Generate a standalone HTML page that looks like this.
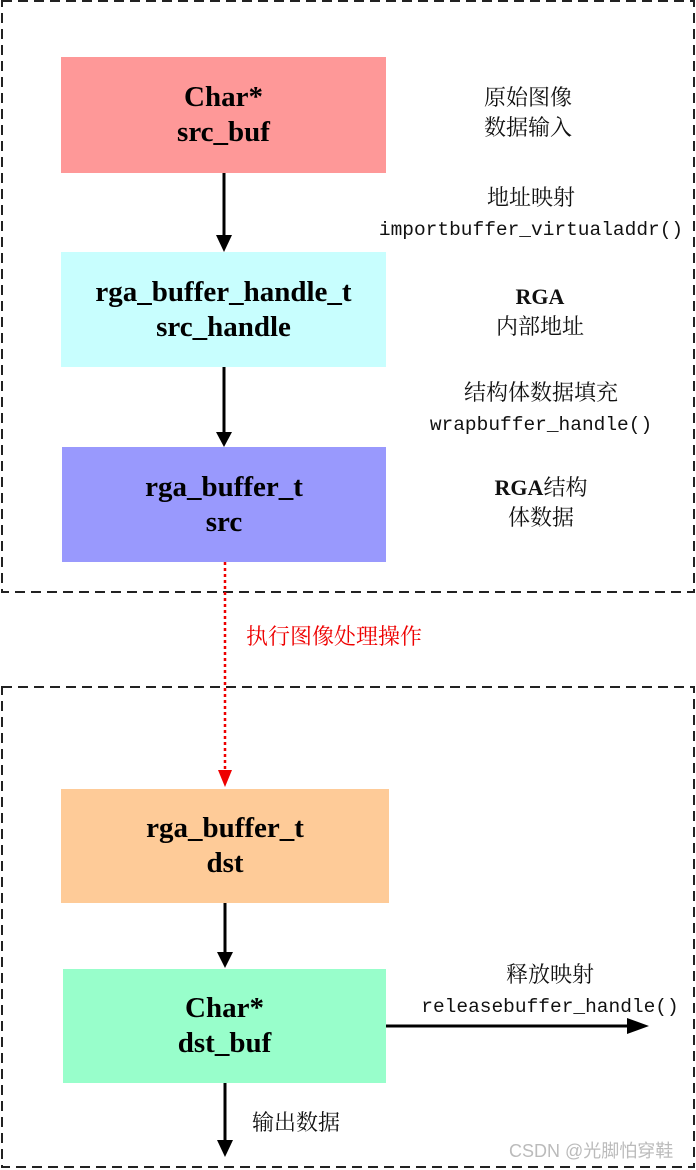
<!DOCTYPE html>
<html><head><meta charset="utf-8"><style>
body{margin:0;width:696px;height:1170px;background:#fff;position:relative;overflow:hidden;font-family:"Liberation Serif","Noto Serif CJK SC",serif}
.b{position:absolute;display:flex;flex-direction:column;justify-content:center;align-items:center;text-align:center;font-weight:bold;font-size:29px;line-height:35px;color:#000}
.t{position:absolute;text-align:center;font-size:22px;line-height:30px;color:#111}
.m{font-family:"Liberation Mono",monospace;font-size:19.5px}
</style></head><body>
<svg width="696" height="1170" style="position:absolute;left:0;top:0">
<rect x="2" y="1" width="692" height="591" fill="none" stroke="#222" stroke-width="2" stroke-dasharray="10,6"/>
<rect x="2" y="687" width="692" height="480" fill="none" stroke="#222" stroke-width="2" stroke-dasharray="10,6"/>
<line x1="224" y1="173" x2="224" y2="238" stroke="#000" stroke-width="3"/>
<path d="M216,235l8,17l8,-17z" fill="#000"/>
<line x1="224" y1="367" x2="224" y2="435" stroke="#000" stroke-width="3"/>
<path d="M216,432l8,15l8,-15z" fill="#000"/>
<line x1="225" y1="562" x2="225" y2="772" stroke="#e00" stroke-width="2.5" stroke-dasharray="3,3"/>
<path d="M218,770l7,17l7,-17z" fill="#e00"/>
<line x1="225" y1="903" x2="225" y2="955" stroke="#000" stroke-width="3"/>
<path d="M217,952l8,16l8,-16z" fill="#000"/>
<line x1="225" y1="1083" x2="225" y2="1142" stroke="#000" stroke-width="3"/>
<path d="M217,1140l8,17l8,-17z" fill="#000"/>
<line x1="386" y1="1026" x2="630" y2="1026" stroke="#000" stroke-width="3"/>
<path d="M627,1018l22,8l-22,8z" fill="#000"/>
</svg>
<div class="b" style="left:61px;top:57px;width:325px;height:116px;background:#fe9898">Char*<br>src_buf</div>
<div class="b" style="left:61px;top:252px;width:325px;height:115px;background:#c8fefe">rga_buffer_handle_t<br>src_handle</div>
<div class="b" style="left:62px;top:447px;width:324px;height:115px;background:#9999fd">rga_buffer_t<br>src</div>
<div class="b" style="left:61px;top:789px;width:328px;height:114px;background:#fecb98">rga_buffer_t<br>dst</div>
<div class="b" style="left:63px;top:969px;width:323px;height:114px;background:#98fecb">Char*<br>dst_buf</div>
<div class="t" style="left:428px;top:83px;width:200px">原始图像<br>数据输入</div>
<div class="t" style="left:371px;top:183px;width:320px">地址映射<br><span class="m">importbuffer_virtualaddr()</span></div>
<div class="t" style="left:430px;top:282px;width:220px"><b>RGA</b><br>内部地址</div>
<div class="t" style="left:396px;top:378px;width:290px">结构体数据填充<br><span class="m">wrapbuffer_handle()</span></div>
<div class="t" style="left:441px;top:473px;width:200px"><b>RGA</b>结构<br>体数据</div>
<div class="t" style="left:246px;top:622px;width:220px;color:#e00;text-align:left">执行图像处理操作</div>
<div class="t" style="left:400px;top:960px;width:300px">释放映射<br><span class="m">releasebuffer_handle()</span></div>
<div class="t" style="left:252px;top:1108px;width:120px;text-align:left">输出数据</div>
<div class="t" style="left:509px;top:1136px;width:190px;text-align:left;font-family:'Liberation Sans','Noto Sans CJK SC',sans-serif;font-size:18px;color:#bbb">CSDN @光脚怕穿鞋</div>
</body></html>
